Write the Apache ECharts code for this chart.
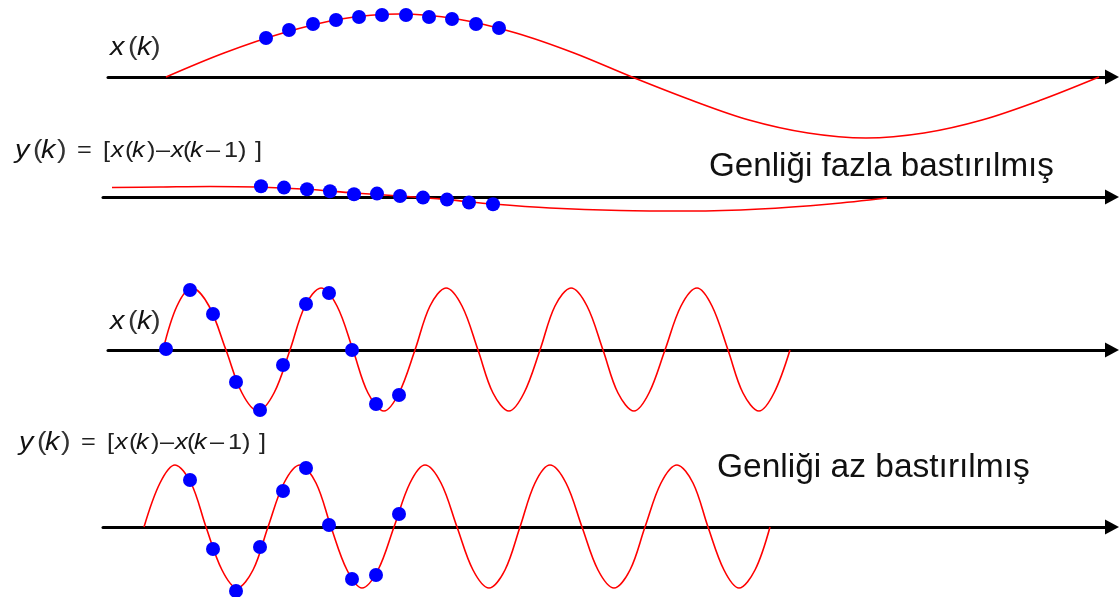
<!DOCTYPE html>
<html>
<head>
<meta charset="utf-8">
<script src="https://cdn.jsdelivr.net/npm/echarts@6/dist/echarts.min.js"></script>
<style>
html,body{margin:0;padding:0;background:#fff;}
#c{width:1119px;height:597px;}
</style>
</head>
<body>
<div id="c"></div>
<script>
// ---- Panel 1: slow x(k) (continuous signal) ----
const p1CurveX = [166, 224, 283, 341, 399, 457, 516, 574, 632, 691, 749, 808, 866, 924, 982, 1041, 1099];
const p1CurveY = [0, 24, 44, 58, 63, 58, 44, 24, 0, -23, -43, -56, -61, -56, -43, -23, 0];
const p1DotX = [266, 289, 313, 336, 359, 382, 406, 429, 452, 476, 499];
const p1DotY = [39, 47, 53, 57, 60, 62, 62, 60, 58, 53, 49];

// ---- Panel 2: y(k) for slow signal (strongly suppressed) ----
const p2CurveX = [112, 160, 210, 257, 307, 354, 400, 447, 493, 550, 620, 690, 760, 830, 887];
const p2CurveY = [9.5, 10, 10.5, 10, 7.7, 4, 1, -2.6, -7, -11, -13.5, -14, -12, -7, -1];
const p2DotX = [261, 284, 307, 330, 354, 377, 400, 423, 447, 469, 493];
const p2DotY = [10.7, 9.4, 7.7, 5.7, 2.7, 3.4, 1, -0.6, -2.6, -5.6, -7.3];

// ---- Panel 3: fast x(k) ----
const p3CurveX = [163, 177, 192, 209, 226, 242, 258, 274, 290, 305, 321, 337, 353, 368, 384, 399, 415, 430, 446, 462, 478, 493, 509, 524, 540, 555, 571, 587, 603, 618, 634, 649, 665, 681, 697, 712, 728, 743, 759, 774, 790];
const p3CurveY = [0, 44, 62, 44, 0, -43, -61, -43, 0, 44, 62, 44, 0, -43, -61, -43, 0, 44, 62, 44, 0, -43, -61, -43, 0, 44, 62, 44, 0, -43, -61, -43, 0, 44, 62, 44, 0, -43, -61, -43, 0];
const p3DotX = [166, 190, 213, 236, 260, 283, 306, 329, 352, 376, 399];
const p3DotY = [1, 60, 36, -32, -60, -15, 46, 57, 0, -54, -45];

// ---- Panel 4: y(k) for fast signal (weakly suppressed) ----
const p4CurveX = [144, 160, 175, 191, 206, 222, 237, 253, 268, 284, 300, 316, 331, 347, 362, 378, 394, 410, 425, 441, 457, 473, 489, 505, 520, 535, 550, 566, 582, 598, 614, 630, 645, 661, 677, 693, 708, 724, 739, 755, 770];
const p4CurveY = [0, 44, 62, 44, 0, -43, -61, -43, 0, 44, 62, 44, 0, -43, -61, -43, 0, 44, 62, 44, 0, -43, -61, -43, 0, 44, 62, 44, 0, -43, -61, -43, 0, 44, 62, 44, 0, -43, -61, -43, 0];
const p4DotX = [190, 213, 236, 260, 283, 306, 329, 352, 376, 399];
const p4DotY = [47, -22, -64, -20, 36, 59, 2, -52, -48, 13];

// ---- Texts ----
const labelFazla = 'Genliği fazla bastırılmış';
const labelAz = 'Genliği az bastırılmış';
const xkGlyphs = ['x', '(', 'k', ')'];
const eqGlyphs = ['y', '(', 'k', ')', '=', '[', 'x', '(', 'k', ')', '–', 'x', '(', 'k', '–', '1', ')', ']'];

const zip = (xs, ys) => xs.map((x, i) => [x, ys[i]]);

const panels = [
  {left: 108, top: 7,   cx: p1CurveX, cy: p1CurveY, dx: p1DotX, dy: p1DotY},
  {left: 103, top: 127, cx: p2CurveX, cy: p2CurveY, dx: p2DotX, dy: p2DotY},
  {left: 108, top: 280, cx: p3CurveX, cy: p3CurveY, dx: p3DotX, dy: p3DotY},
  {left: 103, top: 457, cx: p4CurveX, cy: p4CurveY, dx: p4DotX, dy: p4DotY}
];
const RIGHT = 7, CW = 1119, HALF = 70;

const grid = [], xAxis = [], yAxis = [], series = [];
panels.forEach((p, i) => {
  grid.push({left: p.left, right: RIGHT, top: p.top, height: HALF * 2, containLabel: false});
  xAxis.push({
    type: 'value', gridIndex: i, min: p.left, max: CW - RIGHT,
    axisLine: {show: true, onZero: true, symbol: ['none', 'triangle'], symbolSize: [15, 14],
      lineStyle: {color: '#000', width: 3}},
    axisTick: {show: false}, axisLabel: {show: false}, splitLine: {show: false}
  });
  yAxis.push({type: 'value', gridIndex: i, min: -HALF, max: HALF, show: false,
    axisLine: {show: false}, splitLine: {show: false}});
  series.push({
    type: 'line', xAxisIndex: i, yAxisIndex: i, data: zip(p.cx, p.cy),
    smooth: 0.34, showSymbol: false, clip: false, z: 3,
    lineStyle: {color: '#ff0000', width: 1.6}
  });
  series.push({
    type: 'scatter', xAxisIndex: i, yAxisIndex: i, data: zip(p.dx, p.dy),
    symbol: 'circle', symbolSize: 14, clip: false, z: 4,
    itemStyle: {color: '#0000ff', opacity: 1}
  });
});

const FF = '"Liberation Sans", Arial, sans-serif';
const SX = 1.15; // horizontal stretch of the equation objects
function richFrom(glyphs, widths, styles) {
  const rich = {};
  let text = '';
  glyphs.forEach((g, i) => {
    const key = 't' + i;
    rich[key] = Object.assign({width: widths[i] / SX, align: 'left'}, styles[i]);
    text += '{' + key + '|' + g + '}';
  });
  return {text, rich};
}
const BI = {fontStyle: 'italic', fontSize: 25, fontFamily: FF, fill: '#111'};
const BP = {fontSize: 25, fontFamily: FF, fill: '#333'};
const SI = {fontStyle: 'italic', fontSize: 22, fontFamily: FF, fill: '#111'};
const SP = {fontSize: 22, fontFamily: FF, fill: '#222'};
const xk = richFrom(xkGlyphs, [18, 9, 14, 8], [BI, BP, BI, BP]);
const eq = richFrom(eqGlyphs,
  [18, 8, 16, 20, 26, 8, 14, 7, 15, 9, 15, 12, 7, 16, 18, 14, 17, 8],
  [BI, BP, BI, BP, SP, SP, SI, SP, SI, SP, SP, SI, SP, SI, SP, SP, SP, SP]);

const option = {
  backgroundColor: '#ffffff',
  animation: false,
  grid, xAxis, yAxis, series,
  graphic: [
    {type: 'text', x: 110, y: 48, scaleX: SX, style: {text: xk.text, rich: xk.rich, verticalAlign: 'middle', align: 'left'}},
    {type: 'text', x: 110, y: 322, scaleX: SX, style: {text: xk.text, rich: xk.rich, verticalAlign: 'middle', align: 'left'}},
    {type: 'text', x: 15, y: 151, scaleX: SX, style: {text: eq.text, rich: eq.rich, verticalAlign: 'middle', align: 'left'}},
    {type: 'text', x: 19, y: 443, scaleX: SX, style: {text: eq.text, rich: eq.rich, verticalAlign: 'middle', align: 'left'}},
    {type: 'text', x: 709, y: 167, style: {text: labelFazla, fontSize: 33.2, fontFamily: FF, fill: '#111', verticalAlign: 'middle', align: 'left'}},
    {type: 'text', x: 717, y: 468, style: {text: labelAz, fontSize: 33.5, fontFamily: FF, fill: '#111', verticalAlign: 'middle', align: 'left'}}
  ]
};

const chart = echarts.init(document.getElementById('c'), null, {renderer: 'canvas'});
chart.setOption(option);
</script>
</body>
</html>
